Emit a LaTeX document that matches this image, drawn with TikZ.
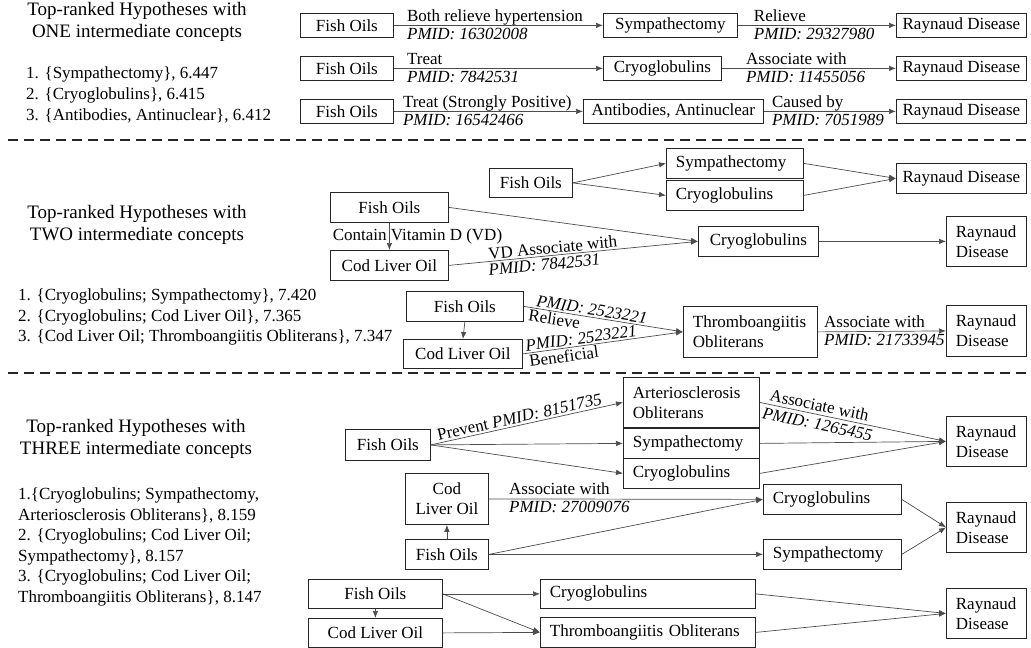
\documentclass[tikz,border=0pt]{standalone}
\usepackage{fontspec}
\setmainfont{Liberation Serif}
\usetikzlibrary{arrows.meta}
\newcommand\nodefnt{\fontsize{17}{20}\selectfont}
\newcommand\titlefnt{\fontsize{19}{22.5}\selectfont}
\newcommand\listfnt{\fontsize{17}{20.6}\selectfont}
\begin{document}
\begin{tikzpicture}[x=1pt,y=-1pt,
  bx/.style={draw=black!85, line width=0.8pt, inner sep=0pt, font=\nodefnt, anchor=north west, align=center},
  lbx/.style={bx, align=left, inner xsep=9.5pt, text width=#1},
  edge/.style={draw=black!70, line width=0.7pt, -{Latex[length=7pt,width=5.5pt]}},
  lab/.style={font=\nodefnt, inner sep=0pt},
  ilab/.style={font=\nodefnt\itshape, inner sep=0pt},
  upl/.style={anchor=base west, yshift=4pt},
  dnl/.style={anchor=base west, yshift=-14pt},
  slup/.style={sloped, above=1.5pt},
  sldn/.style={sloped, below=1.5pt},
  sep/.style={line width=1.6pt, black!85, dash pattern=on 10pt off 6pt}
]
\useasboundingbox (0,0) rectangle (1031,648);

% ---------- left texts ----------
\node[font=\titlefnt, align=center, inner sep=0pt] (t1) at (137,22) {Top-ranked Hypotheses with\\ONE intermediate concepts};
\node[font=\listfnt, align=left, inner sep=0pt, anchor=west] (l1) at (26,95) {1. \{Sympathectomy\}, 6.447\\2. \{Cryoglobulins\}, 6.415\\3. \{Antibodies, Antinuclear\}, 6.412};
\node[font=\titlefnt, align=center, inner sep=0pt] (t2) at (137,225) {Top-ranked Hypotheses with\\TWO intermediate concepts};
\node[font=\listfnt, align=left, inner sep=0pt, anchor=west] (l2) at (18,317) {1. \{Cryoglobulins; Sympathectomy\}, 7.420\\2. \{Cryoglobulins; Cod Liver Oil\}, 7.365\\3. \{Cod Liver Oil; Thromboangiitis Obliterans\}, 7.347};
\node[font=\titlefnt, align=center, inner sep=0pt] (t3) at (136,439) {Top-ranked Hypotheses with\\THREE intermediate concepts};
\node[font=\listfnt, align=left, inner sep=0pt, anchor=west] (l3) at (18,547) {1.\{Cryoglobulins; Sympathectomy,\\Arteriosclerosis Obliterans\}, 8.159\\2. \{Cryoglobulins; Cod Liver Oil;\\Sympathectomy\}, 8.157\\3. \{Cryoglobulins; Cod Liver Oil;\\Thromboangiitis Obliterans\}, 8.147};

% ---------- separators ----------
\coordinate (d1a) at (8,140); \coordinate (d1b) at (1031,140);
\coordinate (d2a) at (8,373); \coordinate (d2b) at (1031,373);
\draw[sep] (d1a) -- (d1b);
\draw[sep] (d2a) -- (d2b);

% ---------- section 1 ----------
\node[bx, minimum width=93, minimum height=24] (fo1) at (300,13) {Fish Oils};
\node[bx, minimum width=134, minimum height=24] (sy1) at (603,13) {Sympathectomy};
\node[bx, minimum width=130, minimum height=24] (ra1) at (896,13) {Raynaud Disease};
\node[bx, minimum width=93, minimum height=24] (fo2) at (300,56) {Fish Oils};
\node[bx, minimum width=118, minimum height=24] (cr2) at (603,56) {Cryoglobulins};
\node[bx, minimum width=130, minimum height=24] (ra2) at (896,56) {Raynaud Disease};
\node[bx, minimum width=93, minimum height=24] (fo3) at (300,99) {Fish Oils};
\node[bx, minimum width=180, minimum height=24] (an3) at (583,99) {Antibodies, Antinuclear};
\node[bx, minimum width=130, minimum height=24] (ra3) at (896,99) {Raynaud Disease};

\draw[edge] (fo1.east) -- node[lab, upl, pos=0.062] {Both relieve hypertension} node[ilab, dnl, pos=0.062] {PMID: 16302008} (sy1.west);
\draw[edge] (sy1.east) -- node[lab, upl, pos=0.10] {Relieve} node[ilab, dnl, pos=0.10] {PMID: 29327980} (ra1.west);
\draw[edge] (fo2.east) -- node[lab, upl, pos=0.062] {Treat} node[ilab, dnl, pos=0.062] {PMID: 7842531} (cr2.west);
\draw[edge] (cr2.east) -- node[lab, upl, pos=0.137] {Associate with} node[ilab, dnl, pos=0.137] {PMID: 11455056} (ra2.west);
\draw[edge] (fo3.east) -- node[lab, upl, pos=0.047] {Treat (Strongly Positive)} node[ilab, dnl, pos=0.047] {PMID: 16542466} (an3.west);
\draw[edge] (an3.east) -- node[lab, upl, pos=0.06] {Caused by} node[ilab, dnl, pos=0.06] {PMID: 7051989} (ra3.west);

% ---------- section 2 ----------
\node[bx, minimum width=83, minimum height=29] (s2fo) at (489,168) {Fish Oils};
\node[lbx=118pt, minimum width=137, minimum height=30] (s2sy) at (666,148) {Sympathectomy};
\node[lbx=118pt, minimum width=137, minimum height=30] (s2cr) at (666,180) {Cryoglobulins};
\node[bx, minimum width=130, minimum height=30] (s2ra) at (896,163) {Raynaud Disease};
\draw[edge] (s2fo.east) -- (s2sy.west);
\draw[edge] (s2fo.east) -- (s2cr.west);
\draw[edge] (s2sy.east) -- (s2ra.west);
\draw[edge] (s2cr.east) -- (s2ra.west);

\node[bx, minimum width=118, minimum height=30] (mfo) at (330,192) {Fish Oils};
\node[bx, minimum width=118, minimum height=30] (mclo) at (330,250) {Cod Liver Oil};
\node[bx, minimum width=120, minimum height=30] (mcr) at (698,226) {Cryoglobulins};
\node[lbx=61pt, minimum width=80, minimum height=50] (mra) at (946,216) {Raynaud\\Disease};
\draw[edge] (mfo.south) -- node[lab, anchor=base west, pos=0.5, xshift=-57pt, yshift=-4pt] {Contain Vitamin D (VD)} (mclo.north);
\draw[edge] (mfo.east) -- (mcr.west);
\draw[edge] (mclo.east) -- node[lab, slup, pos=0.42] {VD Associate with} node[ilab, sloped, below=2.5pt, pos=0.38] {PMID: 7842531} (mcr.west);
\draw[edge] (mcr.east) -- (mra.west);

\node[bx, minimum width=117, minimum height=30] (lfo) at (406,291) {Fish Oils};
\node[bx, minimum width=119, minimum height=29] (lclo) at (403,339) {Cod Liver Oil};
\node[lbx=115pt, minimum width=134, minimum height=51] (lth) at (683,306) {Thromboangiitis\\Obliterans};
\node[lbx=61pt, minimum width=80, minimum height=51] (lra) at (946,305) {Raynaud\\Disease};
\draw[edge] (lfo.south) -- (lclo.north);
\draw[edge] (lfo.east) -- node[ilab, slup, pos=0.42] {PMID: 2523221} node[lab, sldn, pos=0.2] {Relieve} (lth.west);
\draw[edge] (lclo.east) -- node[ilab, slup, pos=0.37] {PMID: 2523221} node[lab, sldn, pos=0.25] {Beneficial} (lth.west);
\draw[edge] (lth.east) -- node[lab, upl, pos=0.047] {Associate with} node[ilab, dnl, pos=0.047] {PMID: 21733945} (lra.west);

% ---------- section 3 ----------
\node[bx, minimum width=85, minimum height=31] (tfo) at (345,429) {Fish Oils};
\node[lbx=117pt, minimum width=136, minimum height=50] (tar) at (623,377) {Arteriosclerosis\\Obliterans};
\node[lbx=117pt, minimum width=136, minimum height=30] (tsy) at (623,428) {Sympathectomy};
\node[lbx=117pt, minimum width=136, minimum height=30] (tcr) at (623,458) {Cryoglobulins};
\node[lbx=61pt, minimum width=80, minimum height=50] (tra) at (946,416) {Raynaud\\Disease};
\draw[edge] (tfo.east) -- node[sloped, above=2pt, pos=0.47, inner sep=0pt, font=\nodefnt] {Prevent \textit{PMID: 8151735}} (tar.west);
\draw[edge] (tfo.east) -- (tsy.west);
\draw[edge] (tfo.east) -- (tcr.west);
\draw[edge] (tar.east) -- node[lab, sloped, above=3pt, pos=0.31] {Associate with} node[ilab, sloped, below=3.5pt, pos=0.32] {PMID: 1265455} (tra.west);
\draw[edge] (tsy.east) -- (tra.west);
\draw[edge] (tcr.east) -- (tra.west);

\node[bx, minimum width=83, minimum height=51] (uclo) at (405,473) {Cod\\Liver Oil};
\node[bx, minimum width=83, minimum height=30] (ufo) at (405,539) {Fish Oils};
\node[lbx=119pt, minimum width=138, minimum height=30] (ucr) at (763,484) {Cryoglobulins};
\node[lbx=119pt, minimum width=138, minimum height=30] (usy) at (763,539) {Sympathectomy};
\node[lbx=61pt, minimum width=80, minimum height=50] (ura) at (946,502) {Raynaud\\Disease};
\draw[edge] (ufo.north) -- (uclo.south);
\draw[edge] (uclo.east) -- node[lab, upl, pos=0.073] {Associate with} node[ilab, dnl, pos=0.073] {PMID: 27009076} (ucr.west);
\draw[edge] (ufo.east) -- (ucr.west);
\draw[edge] (ufo.east) -- (usy.west);
\draw[edge] (ucr.east) -- (ura.west);
\draw[edge] (usy.east) -- (ura.west);

\node[bx, minimum width=134, minimum height=29] (vfo) at (308,579) {Fish Oils};
\node[bx, minimum width=134, minimum height=29] (vclo) at (308,618) {Cod Liver Oil};
\node[lbx=196pt, minimum width=215, minimum height=29] (vcr) at (540,579) {Cryoglobulins};
\node[lbx=196pt, minimum width=215, minimum height=30] (vth) at (540,617) {Thromboangiitis Obliterans};
\node[lbx=61pt, minimum width=80, minimum height=50] (vra) at (946,588) {Raynaud\\Disease};
\draw[edge] (vfo.south) -- (vclo.north);
\draw[edge] (vfo.east) -- (vcr.west);
\draw[edge] (vfo.east) -- (vth.west);
\draw[edge] (vclo.east) -- (vth.west);
\draw[edge] (vcr.east) -- (vra.west);
\draw[edge] (vth.east) -- (vra.west);
\end{tikzpicture}
\end{document}
